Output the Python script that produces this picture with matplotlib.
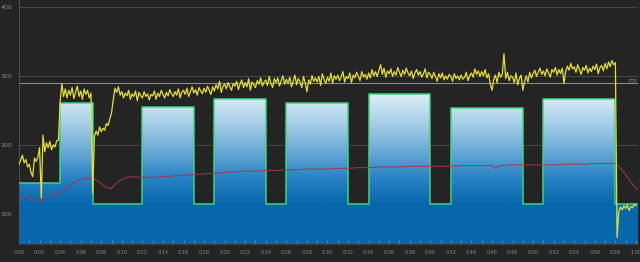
import numpy as np
import matplotlib
matplotlib.use("Agg")
import matplotlib.pyplot as plt
from matplotlib.colors import LinearSegmentedColormap

# workout target (minutes, watts)
step_starts = [0, 4, 7.2, 12, 17, 19, 24, 26, 32, 34, 40, 42, 49, 51, 58]
step_watts = [145, 260, 115, 255, 115, 266, 115, 260, 115, 273, 115, 254, 115, 266, 115]
end_time = 60.2
ftp = 290

# power, one value every 10 s, one row per minute
power = [
    172, 178, 185, 174, 179, 168,
    172, 160, 154, 181, 176, 182,
    196, 123, 214, 190, 203, 196,
    205, 193, 200, 197, 206, 207,
    262, 289, 270, 281, 268, 279,
    272, 283, 267, 276, 285, 270,
    278, 266, 281, 273, 279, 268,
    275, 130, 212, 220, 214, 226,
    219, 224, 221, 231, 228, 238,
    246, 265, 282, 276, 284, 272,
    277, 268, 275, 271, 279, 266,
    274, 270, 278, 264, 276, 271,
    268, 277, 270, 274, 265, 273,
    271, 278, 266, 275, 270, 279,
    273, 268, 276, 271, 280, 274,
    270, 277, 272, 281, 268, 276,
    279, 273, 282, 270, 277, 284,
    275, 280, 272, 283, 278, 274,
    282, 276, 285, 279, 273, 284,
    278, 287, 281, 292, 276, 285,
    288, 281, 290, 284, 279, 289,
    285, 292, 280, 288, 294, 283,
    290, 284, 296, 279, 291, 287,
    283, 293, 288, 297, 285, 291,
    294, 286, 299, 289, 283, 296,
    290, 297, 285, 293, 300, 288,
    295, 289, 298, 284, 292, 301,
    287, 296, 291, 283, 299, 290,
    277, 294, 288, 300, 292, 297,
    291, 299, 286, 303, 295, 289,
    298, 292, 304, 289, 300, 295,
    301, 293, 298, 306, 291, 299,
    296, 304, 290, 301, 297, 305,
    299, 293, 306, 298, 302, 295,
    304, 297, 309, 300, 306, 299,
    308, 316, 302, 311, 298, 307,
    303, 310, 299, 306, 301, 312,
    305, 299, 308, 302, 311, 304,
    300, 307, 296, 304, 309, 301,
    306, 298, 303, 310, 297, 305,
    302, 296, 305, 299, 292, 303,
    297, 304, 294, 300, 295, 302,
    299, 292, 303, 296, 300, 294,
    301, 295, 298, 305, 293, 300,
    304, 298, 310, 302, 307, 299,
    306, 300, 309, 297, 303, 288,
    279, 295, 301, 290, 305, 298,
    302, 332, 296, 305, 293, 300,
    298, 290, 304, 287, 296, 301,
    279, 292, 300, 291, 305, 297,
    303, 308, 299, 306, 311, 302,
    307, 300, 310, 304, 298, 309,
    305, 312, 301, 309, 303, 311,
    289, 306, 314, 308, 318, 310,
    313, 305, 316, 309, 302, 312,
    308, 315, 304, 311, 306, 314,
    309, 317, 303, 312, 315, 307,
    318, 310, 320, 313, 322, 316,
    319, 66, 104, 110, 106, 112,
    108, 113, 105, 111, 109, 114,
    112,
]

# heart rate
hr_time = [0, 0.5, 1, 1.5, 2, 2.5, 3, 3.5, 4, 4.5, 5, 5.5, 6, 6.5, 7, 7.5, 8, 8.5, 9, 9.5,
           10, 10.5, 11, 12, 13, 14, 15, 16, 17, 18, 19, 20, 21, 22, 23, 24, 25, 26, 27, 28,
           29, 30, 31, 32, 33, 34, 35, 36, 37, 38, 39, 40, 41, 42, 43, 44, 45, 46, 46.3, 46.6,
           47, 48, 49, 50, 51, 52, 53, 54, 55, 56, 57, 58, 58.5, 59, 59.5, 60, 60.2]
hr_bpm = [119, 122, 125, 121, 117, 124, 127, 128, 130, 135, 142, 147, 150, 151, 152, 149, 144, 138, 137, 145,
          150, 153, 154, 153, 153, 154, 155, 156, 157, 158, 159, 160, 161, 162, 162, 163, 163, 164, 164, 165,
          165, 165, 166, 166, 167, 167, 168, 168, 168, 169, 169, 169, 169, 169, 170, 170, 170, 170, 166, 169,
          170, 171, 171, 171, 171, 171, 172, 172, 172, 173, 173, 173, 166, 157, 146, 137, 135]

y_min, y_max = 56.5, 409.7
bg = "#242424"

fig = plt.figure(figsize=(6.4, 2.62), dpi=100, facecolor=bg)
ax = fig.add_axes([19 / 640, 18 / 262, 619 / 640, 244 / 262], facecolor=bg)

# grid and FTP line (under the blocks)
for v in [100, 200, 300, 400]:
    ax.axhline(v, color="#4e4e4e", lw=0.6, zorder=0.5)
ax.axhline(ftp, color="#8a8a8a", lw=0.8, zorder=2)
ax.text(end_time - 0.1, ftp + 2, "FTP", color="#8a8a8a", fontsize=3.5,
        ha="right", va="center", zorder=5)

# blue gradient target blocks
sx = step_starts + [end_time]
sy = step_watts + [step_watts[-1]]
poly = ax.fill_between(sx, sy, y_min, step="post", color="none", lw=0)
blues = LinearSegmentedColormap.from_list(
    "wk", ["#0767ad", "#2c84c5", "#6eacd7", "#a9d0e8", "#dbeef6"])
grad = np.linspace(y_min, y_max, 300).reshape(-1, 1)
img = ax.imshow(grad, extent=[0, end_time, y_min, y_max], origin="lower",
                aspect="auto", cmap=blues, vmin=115, vmax=272, zorder=1)
img.set_clip_path(poly.get_paths()[0], transform=ax.transData)
ax.step(sx, sy, where="post", color="#3ed47e", lw=1.1, zorder=3)

pt = np.arange(len(power)) / 6.0
ax.plot(hr_time, hr_bpm, color="#a8354a", lw=0.7, zorder=4)
ax.plot(pt, power, color="#e4de3a", lw=0.9, zorder=5)

ax.set_xlim(0, end_time)
ax.set_ylim(y_min, y_max)
xt = list(range(0, 61, 2))
ax.set_xticks(xt)
ax.set_xticklabels(["%d:%02d" % (m // 60, m % 60) for m in xt])
ax.set_xticks(range(0, 61, 1), minor=True)
ax.set_yticks([100, 200, 300, 400])
ax.tick_params(axis="x", which="both", direction="in", colors="#8fa8bb",
               length=3, width=0.4, labelsize=3.5, labelcolor="#8a8a8a", pad=4)
ax.tick_params(axis="y", length=0, labelsize=4.5, labelcolor="#8a8a8a", pad=5)
for side in ["top", "right"]:
    ax.spines[side].set_visible(False)
ax.spines["left"].set_color("#555555")
ax.spines["left"].set_linewidth(0.6)
ax.spines["bottom"].set_color("#3a3a3a")

fig.savefig("out.png", dpi=100, facecolor=bg)
